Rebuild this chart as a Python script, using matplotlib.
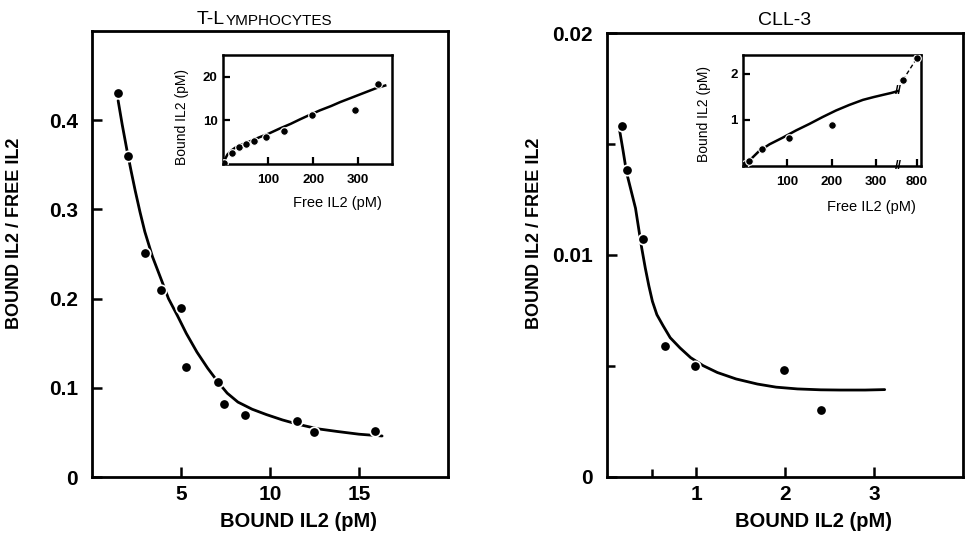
import numpy as np
import matplotlib
matplotlib.use("Agg")
import matplotlib.pyplot as plt
from matplotlib.ticker import FixedLocator

plt.rcParams['font.family'] = ['Liberation Sans', 'DejaVu Sans']
plt.rcParams['font.weight'] = 'bold'

# ---- T-lymphocytes, Scatchard plot ----
t_bound = [1.47, 2.0, 3.0, 3.9, 5.0, 5.3, 7.1, 7.4, 8.6, 11.5, 12.5, 15.9]
t_ratio = [0.431, 0.360, 0.251, 0.210, 0.189, 0.123, 0.107, 0.082, 0.069, 0.0625, 0.050, 0.052]
t_fit_x = [1.47, 1.7, 1.97, 2.2, 2.43, 2.7, 2.97, 3.4, 3.9, 4.3, 4.8, 5.3, 5.9,
           6.5, 7.1, 7.6, 8.2, 9.0, 9.8, 10.7, 11.6, 12.7, 13.8, 15.0, 16.3]
t_fit_y = [0.422, 0.395, 0.366, 0.343, 0.321, 0.297, 0.275, 0.247, 0.221, 0.200,
           0.181, 0.161, 0.140, 0.122, 0.106, 0.094, 0.084, 0.076, 0.070, 0.064,
           0.059, 0.054, 0.051, 0.048, 0.046]

# T-lymphocytes inset, binding isotherm
t_free = [2, 19, 36, 50, 69, 95, 135, 198, 292, 345]
t_bnd = [0.3, 2.6, 4.0, 4.7, 5.3, 6.3, 7.6, 11.3, 12.5, 18.4]
t_fit_free = [0, 5, 10, 20, 28, 40, 60, 80, 102, 125, 150, 170, 191, 215, 240,
              260, 280, 310, 340, 360]
t_fit_bnd = [0, 1.2, 2.2, 3.2, 3.8, 4.4, 5.2, 6.1, 7.0, 8.1, 9.2, 10.2, 11.2,
             12.3, 13.3, 14.2, 15.0, 16.2, 17.4, 18.0]

# ---- CLL-3, Scatchard plot ----
c_bound = [0.17, 0.23, 0.40, 0.655, 0.99, 1.985, 2.40]
c_ratio = [0.0158, 0.0138, 0.0107, 0.0059, 0.0050, 0.0048, 0.0030]
c_fit_x = [0.14, 0.18, 0.22, 0.27, 0.32, 0.355, 0.39, 0.43, 0.47, 0.51, 0.56,
           0.63, 0.71, 0.82, 0.94, 1.08, 1.24, 1.45, 1.69, 1.9, 2.14, 2.4,
           2.62, 2.9, 3.12]
c_fit_y = [0.01565, 0.0147, 0.0137, 0.0129, 0.0121, 0.0112, 0.0103, 0.0094,
           0.0086, 0.0079, 0.0073, 0.0068, 0.00626, 0.0058, 0.00536, 0.0050,
           0.00469, 0.0044, 0.00417, 0.00403, 0.00395, 0.00391, 0.0039,
           0.0039, 0.00392]

# CLL-3 inset (broken x axis after 350 pM)
c_free = [5, 14, 44, 105, 200, 470, 800]
c_bnd = [0.05, 0.1, 0.36, 0.61, 0.89, 1.86, 2.33]
c_fit_free = [0, 10, 20, 36, 60, 89, 120, 150, 180, 210, 240, 271, 295, 317, 335, 350]
c_fit_bnd = [0, 0.08, 0.17, 0.32, 0.47, 0.61, 0.77, 0.91, 1.06, 1.2, 1.32,
             1.43, 1.49, 1.54, 1.58, 1.62]

LW = 2.0
MS = 7.5


def brk_fwd(x):
    x = np.asarray(x, dtype=float)
    return np.where(x <= 350, x, 350 + (x - 350) * 0.095)


def brk_inv(y):
    y = np.asarray(y, dtype=float)
    return np.where(y <= 350, y, 350 + (y - 350) / 0.095)


def style_main(ax):
    for s in ax.spines.values():
        s.set_linewidth(2.0)
    ax.tick_params(which='both', direction='in', width=1.8, labelsize=15)
    ax.tick_params(which='major', length=7)
    ax.tick_params(which='minor', length=6)
    ax.tick_params(axis='y', pad=10)
    ax.tick_params(axis='x', pad=6)


def style_inset(ax):
    for s in ax.spines.values():
        s.set_linewidth(1.8)
    ax.tick_params(direction='in', width=1.6, length=5, labelsize=9.5)
    ax.tick_params(axis='x', pad=7)
    ax.tick_params(axis='y', pad=4)


fig = plt.figure(figsize=(9.7, 5.42), dpi=100)
ax1 = fig.add_axes([0.0948, 0.1199, 0.367, 0.8229])
ax2 = fig.add_axes([0.6258, 0.1208, 0.367, 0.8183])
in1 = fig.add_axes([0.2299, 0.6974, 0.1742, 0.2011])
in2 = fig.add_axes([0.766, 0.6937, 0.1835, 0.2048])

pt = dict(marker='o', color='black', markersize=MS, markeredgecolor='white',
          markeredgewidth=1.2, linestyle='none', zorder=3)
pt_s = dict(marker='o', color='black', markersize=5.5, markeredgecolor='white',
            markeredgewidth=0.8, linestyle='none', zorder=3)

# left main
ax1.plot(t_fit_x, t_fit_y, color='black', lw=LW, solid_capstyle='round')
ax1.plot(t_bound, t_ratio, **pt)
ax1.set_xlim(0, 20)
ax1.set_ylim(0, 0.5)
ax1.xaxis.set_major_locator(FixedLocator([5, 10, 15]))
ax1.set_xticklabels(['5', '10', '15'])
ax1.yaxis.set_major_locator(FixedLocator([0, 0.1, 0.2, 0.3, 0.4]))
ax1.set_yticklabels(['0', '0.1', '0.2', '0.3', '0.4'])
style_main(ax1)
ax1.set_xlabel('BOUND IL2 (pM)', fontsize=14.5, fontweight='bold')
ax1.xaxis.set_label_coords(0.581, -0.078)
ax1.set_ylabel('BOUND IL2 / FREE IL2', fontsize=13, fontweight='bold')
ax1.yaxis.set_label_coords(-0.194, 0.546)

# right main
ax2.plot(c_fit_x, c_fit_y, color='black', lw=LW, solid_capstyle='round')
ax2.plot(c_bound, c_ratio, **pt)
ax2.set_xlim(0, 4)
ax2.set_ylim(0, 0.02)
ax2.xaxis.set_major_locator(FixedLocator([1, 2, 3]))
ax2.xaxis.set_minor_locator(FixedLocator([0.5]))
ax2.set_xticklabels(['1', '2', '3'])
ax2.yaxis.set_major_locator(FixedLocator([0, 0.01, 0.02]))
ax2.yaxis.set_minor_locator(FixedLocator([0.005, 0.015]))
ax2.set_yticklabels(['0', '0.01', '0.02'])
style_main(ax2)
ax2.set_xlabel('BOUND IL2 (pM)', fontsize=14.5, fontweight='bold')
ax2.xaxis.set_label_coords(0.579, -0.08)
ax2.set_ylabel('BOUND IL2 / FREE IL2', fontsize=13, fontweight='bold')
ax2.yaxis.set_label_coords(-0.18, 0.549)

# titles (small caps look for the first one)
t1 = fig.text(197 / 970, 1 - 24 / 542, 'T-L', fontsize=14, fontweight='normal',
              ha='left', va='baseline')
ax1.annotate('YMPHOCYTES', xy=(1, 0), xycoords=t1, xytext=(0.5, 0),
             textcoords='offset points', fontsize=11, fontweight='normal',
             ha='left', va='bottom')
ax2.set_title('CLL-3', fontsize=14, fontweight='normal', pad=6)

# left inset
in1.plot(t_fit_free, t_fit_bnd, color='black', lw=1.8)
in1.plot(t_free, t_bnd, **pt_s)
in1.set_xlim(0, 375)
in1.set_ylim(0, 25)
in1.xaxis.set_major_locator(FixedLocator([100, 200, 300]))
in1.yaxis.set_major_locator(FixedLocator([10, 20]))
style_inset(in1)
in1.set_xlabel('Free IL2 (pM)', fontsize=10.5, fontweight='normal')
in1.xaxis.set_label_coords(0.675, -0.29)
in1.set_ylabel('Bound IL2 (pM)', fontsize=10, fontweight='normal')
in1.yaxis.set_label_coords(-0.2, 0.43)

# right inset with broken x axis
in2.set_xscale('function', functions=(brk_fwd, brk_inv))
in2.plot(c_fit_free, c_fit_bnd, color='black', lw=1.8)
in2.plot(c_free[-2:], c_bnd[-2:], color='black', lw=1.0, ls=(0, (3, 2)))
in2.plot(c_free, c_bnd, **pt_s)
in2.set_xlim(0, 900)
in2.set_ylim(0, 2.4)
in2.xaxis.set_major_locator(FixedLocator([100, 200, 300, 800]))
in2.xaxis.set_minor_locator(FixedLocator([]))
in2.set_xticklabels(['100', '200', '300', '800'])
in2.yaxis.set_major_locator(FixedLocator([1, 2]))
style_inset(in2)
in2.set_xlabel('Free IL2 (pM)', fontsize=10.5, fontweight='normal')
in2.xaxis.set_label_coords(0.719, -0.306)
in2.set_ylabel('Bound IL2 (pM)', fontsize=10, fontweight='normal')
in2.yaxis.set_label_coords(-0.18, 0.468)
for yb in (0, c_fit_bnd[-1]):
    in2.text(356, yb, '//', fontsize=9, fontweight='bold', ha='center', va='center',
             zorder=4)

fig.savefig('out.png', dpi=100)
